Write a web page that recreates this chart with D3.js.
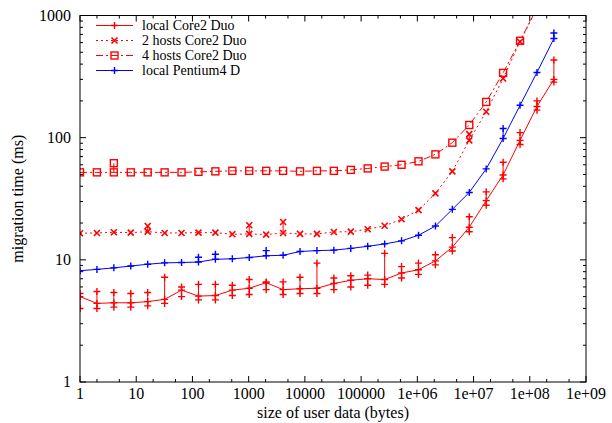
<!DOCTYPE html>
<html>
<head>
<meta charset="utf-8">
<script src="https://cdn.jsdelivr.net/npm/d3@7"></script>
<style>
body { margin: 0; background: #fff; }
</style>
</head>
<body>
<svg id="chart" width="612" height="423"></svg>
<script>
// sizes are 2^k bytes, k = 0..28
var exps = d3.range(0, 29);
var xTicks = [1, 10, 100, 1000, 10000, 100000, 1e6, 1e7, 1e8, 1e9];
var xTickLabels = ["1", "10", "100", "1000", "10000", "100000", "1e+06", "1e+07", "1e+08", "1e+09"];
var yTicks = [1, 10, 100, 1000];

// local Core2 Duo: median line plus min / max of the runs
var localCore2 = [5.0, 4.4, 4.45, 4.45, 4.55, 4.75, 5.65, 5.05, 5.1, 5.65, 5.85, 6.5, 5.7, 5.8, 5.85, 6.4, 6.8, 7.0, 6.9, 7.8, 8.3, 9.8, 12.7, 18.5, 30.5, 49.5, 95, 180, 300];
var localCore2Lo = [4.0, 4.0, 4.1, 4.1, 4.2, 4.4, 5.0, 4.7, 4.7, 5.1, 5.2, 5.7, 5.2, 5.3, 5.3, 5.7, 6.0, 6.2, 6.3, 7.1, 7.6, 9.1, 11.8, 17.0, 28, 46, 88, 168, 285];
var localCore2Hi = [5.3, 5.5, 5.4, 5.3, 5.4, 7.2, 6.0, 6.3, 6.3, 6.2, 6.9, 6.6, 6.6, 7.2, 9.4, 7.1, 7.4, 7.5, 11.3, 8.8, 9.4, 11.0, 15.2, 22.5, 36, 63, 110, 200, 432];

var twoHosts = [16.5, 16.6, 16.8, 16.7, 17.0, 16.6, 16.6, 16.7, 16.7, 16.2, 16.3, 16.1, 16.6, 16.3, 16.3, 16.9, 17.0, 17.8, 19.0, 21.5, 25.5, 35, 53, 95, 163, 305, 610, 1150];
var twoHostsExtra = [[4, 18.9], [10, 19.2], [12, 20.4], [23, 107]];

var fourHosts = [52, 52, 52, 52, 52, 52, 52, 52.5, 53, 53.5, 53.5, 53.5, 53.5, 53, 53.5, 53.5, 54.5, 56, 58, 60, 64, 73, 91, 127, 196, 339, 621, 1150];
var fourHostsExtra = [[2, 61.8]];

var pentium = [8.15, 8.35, 8.6, 8.9, 9.2, 9.45, 9.5, 9.6, 10.1, 10.2, 10.45, 10.8, 10.9, 11.7, 11.9, 12.0, 12.4, 12.9, 13.5, 14.3, 15.9, 18.9, 25.9, 35.6, 55.5, 98.5, 184, 342, 648];
var pentiumExtra = [[7, 10.5], [8, 11.1], [11, 11.9], [25, 119], [28, 720]];

var FONT = "'Liberation Serif', 'Times New Roman', Times, serif";

var svg = d3.select("#chart");
var margin = { left: 80, right: 26, top: 15.5, bottom: 41 };
var width = 612, height = 423;

var x = d3.scaleLog().domain([1, 1e9]).range([margin.left, width - margin.right]);
var y = d3.scaleLog().domain([1, 1000]).range([height - margin.bottom, margin.top]);

svg.append("defs").append("clipPath").attr("id", "plotClip")
    .append("rect")
    .attr("x", x(1)).attr("y", y(1000))
    .attr("width", x(1e9) - x(1)).attr("height", y(1) - y(1000));

// ticks
var xMinor = [];
xTicks.slice(0, -1).forEach(function (t) { xMinor.push(t * 2, t * 5); });
var yMinor = [];
yTicks.slice(0, -1).forEach(function (t) { d3.range(2, 10).forEach(function (m) { yMinor.push(t * m); }); });

var axes = svg.append("g").attr("stroke", "#000").attr("stroke-width", 1);
xTicks.forEach(function (t) {
    axes.append("line").attr("x1", x(t)).attr("x2", x(t)).attr("y1", y(1)).attr("y2", y(1) - 6);
    axes.append("line").attr("x1", x(t)).attr("x2", x(t)).attr("y1", y(1000)).attr("y2", y(1000) + 6);
});
xMinor.forEach(function (t) {
    axes.append("line").attr("x1", x(t)).attr("x2", x(t)).attr("y1", y(1)).attr("y2", y(1) - 3);
    axes.append("line").attr("x1", x(t)).attr("x2", x(t)).attr("y1", y(1000)).attr("y2", y(1000) + 3);
});
yTicks.forEach(function (t) {
    axes.append("line").attr("x1", x(1)).attr("x2", x(1) + 6).attr("y1", y(t)).attr("y2", y(t));
    axes.append("line").attr("x1", x(1e9)).attr("x2", x(1e9) - 6).attr("y1", y(t)).attr("y2", y(t));
});
yMinor.forEach(function (t) {
    axes.append("line").attr("x1", x(1)).attr("x2", x(1) + 3).attr("y1", y(t)).attr("y2", y(t));
    axes.append("line").attr("x1", x(1e9)).attr("x2", x(1e9) - 3).attr("y1", y(t)).attr("y2", y(t));
});

svg.append("g").selectAll("text").data(xTicks).enter().append("text")
    .attr("x", function (d) { return x(d); })
    .attr("y", 399)
    .attr("text-anchor", "middle")
    .attr("font-family", FONT)
    .attr("font-size", 16)
    .text(function (d, i) { return xTickLabels[i]; });

svg.append("g").selectAll("text").data(yTicks).enter().append("text")
    .attr("x", 71)
    .attr("y", function (d) { return y(d) + 5; })
    .attr("text-anchor", "end")
    .attr("font-family", FONT)
    .attr("font-size", 16)
    .text(function (d) { return String(d); });

svg.append("text").attr("x", (x(1) + x(1e9)) / 2).attr("y", 418)
    .attr("text-anchor", "middle").attr("font-size", 16).attr("font-family", FONT)
    .text("size of user data (bytes)");

svg.append("text").attr("transform", "translate(23," + ((y(1) + y(1000)) / 2) + ") rotate(-90)")
    .attr("text-anchor", "middle").attr("font-size", 16).attr("font-family", FONT)
    .text("migration time (ms)");

// markers
function drawMarker(g, type, cx, cy, color)
{
    if (type == "plus")
    {
        g.append("path").attr("d", "M" + (cx - 3.5) + "," + cy + "H" + (cx + 3.5) + "M" + cx + "," + (cy - 3.5) + "V" + (cy + 3.5))
            .attr("stroke", color).attr("stroke-width", 1.4).attr("fill", "none");
    }
    else if (type == "cross")
    {
        g.append("path").attr("d", "M" + (cx - 3) + "," + (cy - 3) + "L" + (cx + 3) + "," + (cy + 3) + "M" + (cx - 3) + "," + (cy + 3) + "L" + (cx + 3) + "," + (cy - 3))
            .attr("stroke", color).attr("stroke-width", 1.6).attr("fill", "none");
    }
    else if (type == "square")
    {
        g.append("rect").attr("x", cx - 3.5).attr("y", cy - 3.5).attr("width", 7).attr("height", 7)
            .attr("stroke", color).attr("stroke-width", 1.4).attr("fill", "none");
    }
}

var series = [
    { name: "local Core2 Duo", values: localCore2, lo: localCore2Lo, hi: localCore2Hi, extra: [], color: "#ff0000", dash: null, marker: "plus" },
    { name: "2 hosts Core2 Duo", values: twoHosts, extra: twoHostsExtra, color: "#ff0000", dash: "2,3", marker: "cross" },
    { name: "4 hosts Core2 Duo", values: fourHosts, extra: fourHostsExtra, color: "#ff0000", dash: "7,3,2,3", marker: "square" },
    { name: "local Pentium4 D", values: pentium, extra: pentiumExtra, color: "#0000ff", dash: null, marker: "plus" }
];

var plot = svg.append("g").attr("clip-path", "url(#plotClip)");

var line = d3.line()
    .x(function (d) { return x(Math.pow(2, d.k)); })
    .y(function (d) { return y(d.v); });

series.forEach(function (s)
{
    var pts = s.values.map(function (v, i) { return { k: exps[i], v: v }; });
    var g = plot.append("g");
    g.append("path").datum(pts)
        .attr("d", line)
        .attr("fill", "none")
        .attr("stroke", s.color)
        .attr("stroke-width", 1)
        .attr("stroke-dasharray", s.dash);

    if (s.lo)
    {
        s.values.forEach(function (v, i)
        {
            var cx = x(Math.pow(2, exps[i]));
            g.append("line").attr("x1", cx).attr("x2", cx).attr("y1", y(s.lo[i])).attr("y2", y(s.hi[i]))
                .attr("stroke", s.color).attr("stroke-width", 1);
            drawMarker(g, s.marker, cx, y(s.lo[i]), s.color);
            drawMarker(g, s.marker, cx, y(s.hi[i]), s.color);
        });
    }
    s.extra.forEach(function (e)
    {
        var cx = x(Math.pow(2, e[0]));
        g.append("line").attr("x1", cx).attr("x2", cx).attr("y1", y(s.values[e[0]])).attr("y2", y(e[1]))
            .attr("stroke", s.color).attr("stroke-width", 1);
        drawMarker(g, s.marker, cx, y(e[1]), s.color);
    });
    pts.forEach(function (p) { drawMarker(g, s.marker, x(Math.pow(2, p.k)), y(p.v), s.color); });
});

// frame
svg.append("rect").attr("x", x(1)).attr("y", y(1000))
    .attr("width", x(1e9) - x(1)).attr("height", y(1) - y(1000))
    .attr("fill", "none").attr("stroke", "#000").attr("stroke-width", 1);

// legend
var legend = svg.append("g");
series.forEach(function (s, i)
{
    var ly = 25.5 + i * 15;
    legend.append("line").attr("x1", 96).attr("x2", 133).attr("y1", ly).attr("y2", ly)
        .attr("stroke", s.color).attr("stroke-width", 1).attr("stroke-dasharray", s.dash);
    drawMarker(legend, s.marker, 114.5, ly, s.color);
    legend.append("text").attr("x", 142).attr("y", ly + 4.5)
        .attr("font-family", FONT).attr("font-size", 14).text(s.name);
});
</script>
</body>
</html>
